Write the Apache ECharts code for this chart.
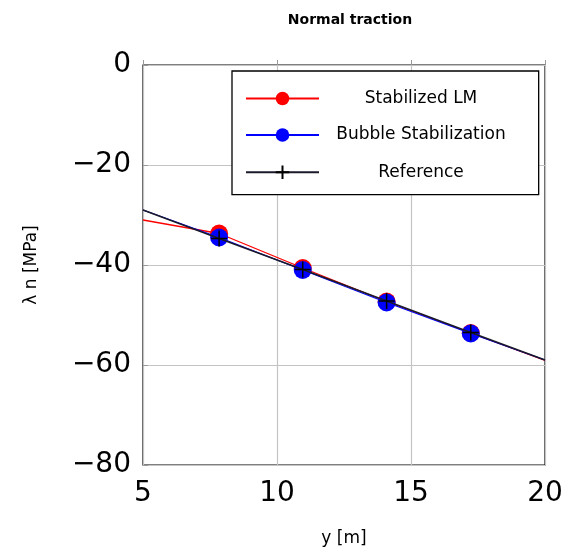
<!DOCTYPE html>
<html><head><meta charset="utf-8">
<script src="https://cdn.jsdelivr.net/npm/echarts@6/dist/echarts.min.js"></script>
<style>html,body{margin:0;padding:0;background:#fff}#c{width:570px;height:550px}</style>
</head><body><div id="c"></div>
<script>
const xTicks = [5, 10, 15, 20];
const yTicks = [-80, -60, -40, -20, 0];
const stabLM = [[5, -31.0], [7.84, -33.7], [10.96, -40.6], [14.09, -47.3], [17.23, -53.6], [20, -59.1]];
const bubble = [[5, -29.0], [7.84, -34.5], [10.96, -41.0], [14.09, -47.5], [17.23, -53.7], [20, -59.0]];
const reference = [[5, -29.0], [7.84, -34.7], [10.96, -40.9], [14.09, -47.2], [17.23, -53.5], [20, -59.0]];

const FONT = 'DejaVu Sans';
function pts(arr) {
  return arr.map((p, i) => ({ value: p, symbol: (i === 0 || i === arr.length - 1) ? 'none' : undefined }));
}
const chart = echarts.init(document.getElementById('c'), null, { renderer: 'canvas' });
chart.setOption({
  animation: false,
  title: { text: 'Normal traction', left: 345, top: 8, textAlign: 'center',
    textStyle: { fontFamily: FONT, fontSize: 14, fontWeight: 'bold', color: '#000' } },
  grid: { left: 143, right: 25, top: 65, bottom: 85, show: true, borderColor: '#000', borderWidth: 1.2,
    backgroundColor: 'transparent', containLabel: false, outerBoundsMode: 'none' },
  xAxis: { type: 'value', min: xTicks[0], max: xTicks[xTicks.length - 1], interval: 5,
    name: 'y [m]', nameLocation: 'middle', nameGap: 65,
    nameTextStyle: { fontFamily: FONT, fontSize: 17, color: '#000' },
    axisLine: { show: false }, axisTick: { inside: true, length: 5, lineStyle: { color: '#999' } },
    splitLine: { show: true, lineStyle: { color: '#c4c4c4', width: 1.2 } },
    axisLabel: { fontFamily: FONT, fontSize: 28, color: '#000', margin: 15 } },
  yAxis: { type: 'value', min: yTicks[0], max: yTicks[yTicks.length - 1], interval: 20,
    name: 'λ n [MPa]', nameLocation: 'middle', nameGap: 103, nameRotate: 90,
    nameTextStyle: { fontFamily: FONT, fontSize: 17, color: '#000' },
    axisLine: { show: false }, axisTick: { inside: true, length: 5, lineStyle: { color: '#999' } },
    splitLine: { show: true, lineStyle: { color: '#c4c4c4', width: 1.2 } },
    axisLabel: { fontFamily: FONT, fontSize: 28, color: '#000', margin: 12,
      formatter: v => String(v).replace('-', '\u2212') } },
  legend: {
    orient: 'vertical', left: 232, top: 71,
    padding: [19, 33, 13, 13], itemGap: 19.5, itemWidth: 73, itemHeight: 17,
    borderColor: '#000', borderWidth: 1.3, backgroundColor: '#fff',
    data: ['Stabilized LM', 'Bubble Stabilization', 'Reference'],
    formatter: n => '{a|' + n + '}',
    textStyle: { fontFamily: FONT, fontSize: 17, color: '#000',
      rich: { a: { width: 194, align: 'center', fontFamily: FONT, fontSize: 17, color: '#000' } } }
  },
  series: [
    { name: 'Stabilized LM', type: 'line', data: pts(stabLM), symbol: 'circle', symbolSize: 18,
      color: '#ff0000', lineStyle: { color: '#ff0000', width: 1.3 }, itemStyle: { color: '#ff0000' }, z: 2 },
    { name: 'Bubble Stabilization', type: 'line', data: pts(bubble), symbol: 'circle', symbolSize: 18,
      color: '#0000ff', lineStyle: { color: '#0000ff', width: 1.3 }, itemStyle: { color: '#0000ff' }, z: 3 },
    { name: 'Reference', type: 'line', data: pts(reference),
      symbol: 'path://M0,-1L0,1M-1,0L1,0', symbolSize: 16,
      color: '#222', lineStyle: { color: '#1a1a2a', width: 1.5 },
      itemStyle: { color: 'none', borderColor: '#000', borderWidth: 1.5 }, z: 4 }
  ]
});
</script></body></html>
